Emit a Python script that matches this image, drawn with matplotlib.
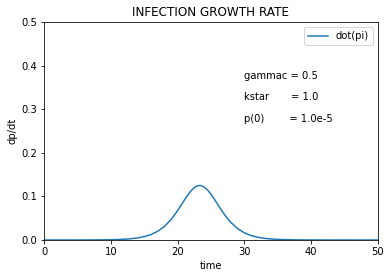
import matplotlib
matplotlib.use('Agg')
import matplotlib.pyplot as plt

# values
time = [0, 2, 4, 6, 8, 10, 11, 12, 13, 14, 15, 16, 17, 18, 19, 19.5, 20, 20.5,
        21, 21.5, 22, 22.5, 23, 23.3, 23.5, 24, 24.5, 25, 25.5, 26, 26.5, 27,
        27.5, 28, 29, 30, 31, 32, 33, 34, 35, 36, 38, 40, 45, 50]
dpdt = [0.0, 0.00001, 0.00003, 0.00009, 0.00024, 0.00065, 0.00106, 0.00175,
        0.0029, 0.0047, 0.0077, 0.0124, 0.0198, 0.0306, 0.0466, 0.0566,
        0.0675, 0.0794, 0.0913, 0.1028, 0.1127, 0.1201, 0.1243, 0.125, 0.1247,
        0.1212, 0.1144, 0.1049, 0.0937, 0.0817, 0.0699, 0.0589, 0.0486,
        0.0398, 0.026, 0.0164, 0.0102, 0.0063, 0.0038, 0.0023, 0.0014,
        0.0009, 0.0003, 0.0001, 0.0, 0.0]

params = ["gammac = 0.5", "kstar       = 1.0", "p(0)        = 1.0e-5"]
param_y = [0.37, 0.32, 0.27]

fig = plt.figure(figsize=(392/72, 278/72), dpi=72)
ax = fig.add_axes([44/392, 38/278, 334/392, 218/278])
ax.plot(time, dpdt, color='#1f77b4', label='dot(pi)')
ax.set_xlim(0, 50)
ax.set_ylim(0, 0.5)
ax.set_title("INFECTION GROWTH RATE")
ax.set_xlabel("time")
ax.set_ylabel("dp/dt")
for s, y in zip(params, param_y):
    ax.text(30, y, s)
ax.legend(loc='upper right')
fig.savefig("out.png", dpi=72)
